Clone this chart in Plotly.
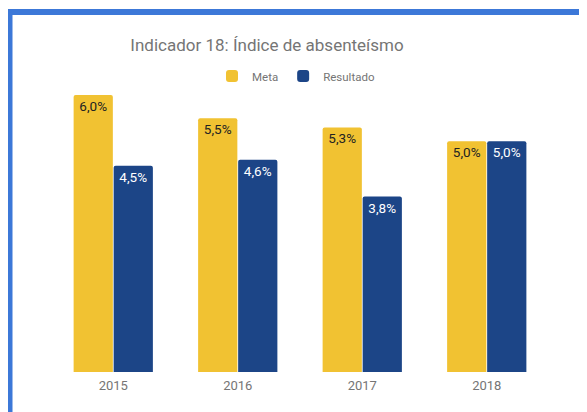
import plotly.graph_objects as go

years = ["2015", "2016", "2017", "2018"]
meta = [6.0, 5.5, 5.3, 5.0]
resultado = [4.47, 4.6, 3.8, 5.0]
meta_labels = ["6,0%", "5,5%", "5,3%", "5,0%"]
resultado_labels = ["4,5%", "4,6%", "3,8%", "5,0%"]

FONT = "Roboto"

# page offset of the figure (browser body margin)
OFF = 8
W, H = 587 - OFF, 412 - OFF
L, R, T, B = 51 - OFF, 38, 72 - OFF, 40
pw = W - L - R
ph = H - T - B

def px(x):
    return (x - OFF - L) / pw

def py(y):
    return (H - B - (y - OFF)) / ph

fig = go.Figure()
fig.add_trace(go.Bar(
    x=years, y=meta, name="Meta", marker_color="#f1c232",
    marker_line_width=0,
    text=meta_labels, textposition="inside", insidetextanchor="end",
    textfont=dict(family=FONT, size=13.5, color="#222222"),
    textangle=0,
))
fig.add_trace(go.Bar(
    x=years, y=resultado, name="Resultado", marker_color="#1c4587",
    marker_line_width=0,
    text=resultado_labels, textposition="inside", insidetextanchor="end",
    textfont=dict(family=FONT, size=13.5, color="#ffffff"),
    textangle=0,
))

fig.update_layout(
    width=W, height=H,
    margin=dict(l=L, r=R, t=T, b=B, pad=0, autoexpand=False),
    paper_bgcolor="white", plot_bgcolor="white",
    barmode="group", bargap=0.357, bargroupgap=0.02,
    barcornerradius=2,
    font=dict(family=FONT, color="#757575"),
    title=dict(text="Indicador 18: Índice de absenteísmo",
               font=dict(family=FONT, size=17, color="#757575"),
               x=(267 - OFF) / W, xanchor="center",
               y=1 - (45 - OFF) / H, yanchor="middle"),
    legend=dict(orientation="h", x=px(296), xanchor="center",
                y=py(76), yanchor="middle",
                font=dict(family=FONT, size=11.5, color="#757575"),
                itemwidth=30, traceorder="normal"),
    xaxis=dict(showgrid=False, showline=False, ticks="",
               ticklabelstandoff=4,
               tickfont=dict(family=FONT, size=13, color="#757575")),
    yaxis=dict(range=[0, 6.5], visible=False, showgrid=False, zeroline=False),
    shapes=[
        dict(type="rect", xref="paper", yref="paper",
             x0=px(0), x1=px(600), y0=py(15), y1=py(9),
             fillcolor="#3c78d8", line_width=0, layer="above"),
        dict(type="rect", xref="paper", yref="paper",
             x0=px(0), x1=px(12.5), y0=py(420), y1=py(9),
             fillcolor="#3c78d8", line_width=0, layer="above"),
    ],
)

fig.write_html("out.html")
